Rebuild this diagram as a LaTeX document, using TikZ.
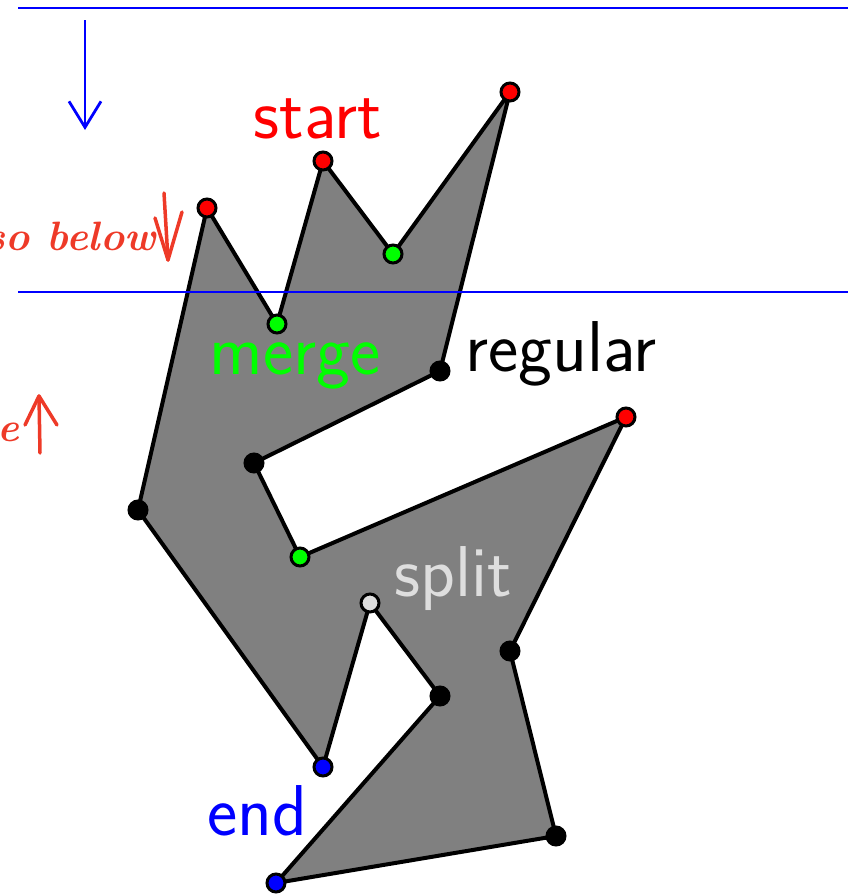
\documentclass[tikz,border=0pt]{standalone}
\usepackage{tikz}
\usetikzlibrary{arrows.meta,backgrounds}
\definecolor{ink}{RGB}{238,58,40}
\definecolor{splitgray}{RGB}{222,222,222}

\begin{document}
\begin{tikzpicture}[
    x=1pt, y=-1pt,
    vtx/.style={circle, draw, line width=3pt, minimum size=18pt, inner sep=0pt},
    startv/.style={vtx, fill=red},
    mergev/.style={vtx, fill=green},
    regv/.style={vtx, fill=black},
    splitv/.style={vtx, fill=splitgray},
    endv/.style={vtx, fill=blue},
    poly/.style={draw, line width=4pt, fill=gray, line join=round},
    sweep/.style={blue, line width=2.8pt},
    lbl/.style={font=\fontsize{72}{76}\selectfont\sffamily, anchor=base, inner sep=0pt},
    hand/.style={ink, line width=3.5pt, line cap=round, line join=round},
    handtext/.style={ink, font=\fontsize{41}{45}\selectfont\itshape\bfseries, anchor=base east, inner sep=0pt},
]
    \useasboundingbox (0,0) rectangle (853,894);

    % Sweep lines
    \coordinate (top l) at (18,8);
    \coordinate (top r) at (848,8);
    \coordinate (mid l) at (18,292);
    \coordinate (mid r) at (848,292);
    \draw[sweep] (top l) -- (top r);
    \draw[sweep] (mid l) -- (mid r);
    \coordinate (dir a) at (85,20);
    \coordinate (dir b) at (85,130);
    \draw[sweep, -{Straight Barb[length=26pt, width=32pt, line width=2.8pt]}] (dir a) -- (dir b);

    % Vertices
    \node[startv] (v1) at (207,208) {};
    \node[mergev] (v2) at (277,324) {};
    \node[startv] (v3) at (323,161) {};
    \node[mergev] (v4) at (393,254) {};
    \node[startv] (v5) at (510,92) {};
    \node[regv] (v6) at (440,371) {};
    \node[regv] (v7) at (254,463) {};
    \node[mergev] (v8) at (300,557) {};
    \node[startv] (v9) at (626,417) {};
    \node[regv] (v10) at (510,651) {};
    \node[regv] (v11) at (556,836) {};
    \node[endv] (v12) at (276,883) {};
    \node[regv] (v13) at (440,696) {};
    \node[splitv] (v14) at (370,603) {};
    \node[endv] (v15) at (323,767) {};
    \node[regv] (v16) at (138,510) {};

    % Polygon
    \begin{pgfonlayer}{background}
        \draw[poly] (v1.center) -- (v2.center) -- (v3.center) -- (v4.center)
            -- (v5.center) -- (v6.center) -- (v7.center) -- (v8.center)
            -- (v9.center) -- (v10.center) -- (v11.center) -- (v12.center)
            -- (v13.center) -- (v14.center) -- (v15.center) -- (v16.center) -- cycle;
    \end{pgfonlayer}

    % Labels
    \node[lbl, red] (start) at (318,138) {start};
    \node[lbl, green] (merge) at (295,374) {merge};
    \node[lbl, anchor=base west] (regular) at (465,371) {regular};
    \node[lbl, splitgray] (split) at (453,596) {split};
    \node[lbl, blue] (end) at (257,835) {end};

    % Handwritten notes
    \node[handtext] (note1) at (156,250) {also below};
    \coordinate (n1 a) at (164,193);
    \coordinate (n1 b) at (168,260);
    \coordinate (n1 l) at (155,218);
    \coordinate (n1 r) at (182,212);
    \draw[hand] (n1 a) -- (n1 b);
    \draw[hand] (n1 l) -- (n1 b) -- (n1 r);
    \node[handtext] (note2) at (20,441) {e};
    \coordinate (n2 a) at (40,453);
    \coordinate (n2 b) at (39,396);
    \coordinate (n2 l) at (25,425);
    \coordinate (n2 r) at (57,425);
    \draw[hand] (n2 a) -- (n2 b);
    \draw[hand] (n2 l) -- (n2 b) -- (n2 r);
\end{tikzpicture}
\end{document}
